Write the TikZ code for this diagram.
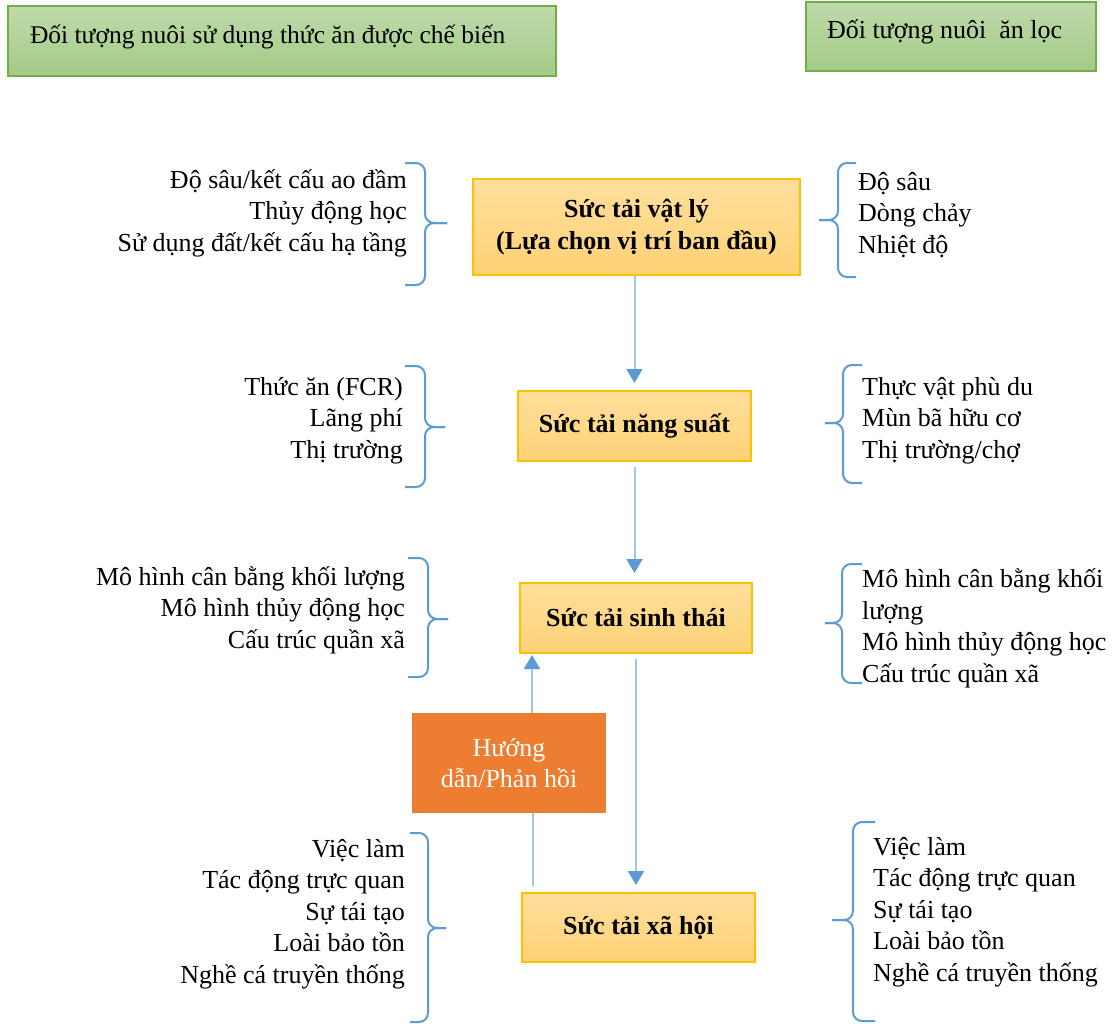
\documentclass[tikz,border=0pt]{standalone}
\usepackage{fontspec}
\setmainfont{Liberation Serif}
\usetikzlibrary{arrows.meta}
\definecolor{greenline}{RGB}{112,173,71}
\definecolor{greentop}{RGB}{190,218,170}
\definecolor{greenbot}{RGB}{163,203,135}
\definecolor{capline}{RGB}{255,192,0}
\definecolor{captop}{RGB}{255,223,156}
\definecolor{capbot}{RGB}{255,209,118}
\definecolor{fborange}{RGB}{237,125,49}
\definecolor{braceblue}{RGB}{91,155,213}
\definecolor{linkblue}{RGB}{160,197,232}
\begin{document}
\begin{tikzpicture}[x=1pt,y=-1pt]
	\tikzstyle{every node}+=[inner sep=0pt, font=\fontsize{26}{31.5}\selectfont]
	\tikzstyle{gbox}=[draw=greenline, line width=2pt, top color=greentop, bottom color=greenbot, text height=20pt, text depth=14pt]
	\tikzstyle{cbox}=[draw=capline, line width=2pt, top color=captop, bottom color=capbot, align=center, font=\fontsize{26}{31.5}\selectfont\bfseries]
	\tikzstyle{fbox}=[fill=fborange, text=white, align=center]
	\tikzstyle{itemsl}=[anchor=base east, align=right]
	\tikzstyle{itemsr}=[anchor=base west, align=left]
	\tikzstyle{brc}=[draw=braceblue, line width=2pt, rounded corners=9pt]
	\tikzstyle{link}=[draw=linkblue, line width=2pt, -{Triangle[width=16pt,length=14pt,color=braceblue]}]
	\useasboundingbox (0,0) rectangle (1113,1025);
	\node [gbox, minimum width=548pt, minimum height=70pt, font=\fontsize{25.5}{30}\selectfont] (feedtop) at (282,41) {\makebox[504pt][l]{Đối tượng nuôi sử dụng thức ăn được chế biến}};
	\node [gbox, minimum width=290pt, minimum height=69pt, text depth=16pt] (filtertop) at (951,36.5) {\makebox[248pt][l]{Đối tượng nuôi\ \ ăn lọc}};
	\node [cbox, minimum width=327pt, minimum height=96pt] (phys) at (636.5,227) {Sức tải vật lý\\(Lựa chọn vị trí ban đầu)};
	\node [cbox, minimum width=233pt, minimum height=70pt] (prod) at (634.5,426) {Sức tải năng suất};
	\node [cbox, minimum width=232pt, minimum height=70pt] (eco) at (636,618) {Sức tải sinh thái};
	\node [cbox, minimum width=233pt, minimum height=69pt] (soc) at (638.5,927.5) {Sức tải xã hội};
	\node [fbox, minimum width=194pt, minimum height=100pt] (guide) at (509,763) {Hướng\\dẫn/Phản hồi};
	\node [itemsl] (physl) at (407,251) {Độ sâu/kết cấu ao đầm\\Thủy động học\\Sử dụng đất/kết cấu hạ tầng};
	\node [itemsr] (physr) at (858,253) {Độ sâu\\Dòng chảy\\Nhiệt độ};
	\node [itemsl] (prodl) at (403,458) {Thức ăn (FCR)\\Lãng phí\\Thị trường};
	\node [itemsr] (prodr) at (862,458) {Thực vật phù du\\Mùn bã hữu cơ\\Thị trường/chợ};
	\node [itemsl] (ecol) at (405,648) {Mô hình cân bằng khối lượng\\Mô hình thủy động học\\Cấu trúc quần xã};
	\node [itemsr] (ecor) at (862,682) {Mô hình cân bằng khối\\lượng\\Mô hình thủy động học\\Cấu trúc quần xã};
	\node [itemsl] (socl) at (405,983) {Việc làm\\Tác động trực quan\\Sự tái tạo\\Loài bảo tồn\\Nghề cá truyền thống};
	\node [itemsr] (socr) at (873,981) {Việc làm\\Tác động trực quan\\Sự tái tạo\\Loài bảo tồn\\Nghề cá truyền thống};
	\draw [brc] (405,163) -- (425,163) -- (425,223) -- (447,223);
	\draw [brc] (447,223) -- (425,223) -- (425,285) -- (405,285);
	\draw [brc] (856,163) -- (838,163) -- (838,220) -- (819,220);
	\draw [brc] (819,220) -- (838,220) -- (838,277) -- (856,277);
	\draw [brc] (405,366) -- (425,366) -- (425,427) -- (445,427);
	\draw [brc] (445,427) -- (425,427) -- (425,487) -- (405,487);
	\draw [brc] (862,365) -- (843,365) -- (843,423) -- (825,423);
	\draw [brc] (825,423) -- (843,423) -- (843,483) -- (862,483);
	\draw [brc] (408,558) -- (428,558) -- (428,619) -- (448,619);
	\draw [brc] (448,619) -- (428,619) -- (428,677) -- (408,677);
	\draw [brc] (862,564) -- (842,564) -- (842,623) -- (825,623);
	\draw [brc] (825,623) -- (842,623) -- (842,683) -- (862,683);
	\draw [brc] (410,833) -- (428,833) -- (428,928) -- (446,928);
	\draw [brc] (446,928) -- (428,928) -- (428,1022) -- (410,1022);
	\draw [brc] (875,822) -- (853,822) -- (853,920) -- (832,920);
	\draw [brc] (832,920) -- (853,920) -- (853,1021) -- (875,1021);
	\draw [link, shorten >=7pt] (prod.north |- phys.south) -- (prod.north);
	\draw [link, shorten <=5pt, shorten >=9pt] (prod.south) -- (prod.south |- eco.north);
	\draw [link, shorten <=5pt, shorten >=7pt] (eco.south) -- (eco.south |- soc.north);
	\draw [link, shorten >=1pt] ([xshift=23pt]guide.north) -- ([xshift=23pt]guide.north |- eco.south);
	\draw [draw=linkblue, line width=2pt, shorten <=6pt] ([xshift=24pt]guide.south |- soc.north) -- ([xshift=24pt]guide.south);
\end{tikzpicture}
\end{document}
